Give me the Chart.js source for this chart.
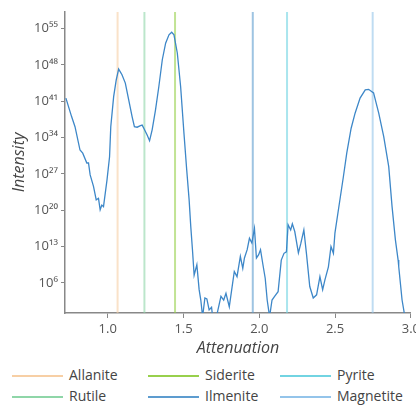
<!DOCTYPE html>
<html>
<head>
<meta charset="utf-8">
<script src="https://cdn.jsdelivr.net/npm/chart.js@4/dist/chart.umd.min.js"></script>
<style>
  html, body { margin: 0; padding: 0; background: #fff; overflow: hidden; }
  #wrap { position: relative; width: 416px; height: 406px; overflow: hidden; }
  #box { position: absolute; left: 0; top: 0; width: 423px; height: 362px; }
  #legend { position: absolute; left: 0; top: 364px; width: 416px; font-family: "Open Sans", sans-serif; font-size: 14px; color: #444; }
  .item { position: absolute; height: 20px; line-height: 20px; white-space: nowrap; }
  .item span.sw { display: inline-block; width: 51px; height: 2px; vertical-align: middle; margin-right: 6px; }
</style>
</head>
<body>
<div id="wrap">
  <div id="box"><canvas id="chart"></canvas></div>
  <div id="legend"></div>
</div>
<script>
// Measured curve: attenuation vs log10(intensity)
const attenuation = [0.724, 0.762, 0.784, 0.817, 0.835, 0.862, 0.873, 0.884, 0.906, 0.924,
  0.939, 0.950, 0.961, 0.972, 0.995, 1.012, 1.020, 1.039, 1.056, 1.072,
  1.094, 1.116, 1.138, 1.161, 1.176, 1.194, 1.216, 1.227, 1.238, 1.260,
  1.276, 1.293, 1.315, 1.337, 1.360, 1.382, 1.404, 1.422, 1.437, 1.459,
  1.481, 1.503, 1.521, 1.537, 1.548, 1.559, 1.570, 1.588, 1.603, 1.614,
  1.626, 1.641, 1.654, 1.669, 1.685, 1.692, 1.710, 1.725, 1.747, 1.765,
  1.780, 1.802, 1.818, 1.835, 1.853, 1.875, 1.891, 1.902, 1.920, 1.935,
  1.951, 1.968, 1.981, 1.995, 2.008, 2.024, 2.039, 2.052, 2.068, 2.084,
  2.101, 2.124, 2.145, 2.163, 2.179, 2.190, 2.207, 2.218, 2.234, 2.258,
  2.274, 2.294, 2.311, 2.333, 2.356, 2.378, 2.400, 2.418, 2.433, 2.456,
  2.473, 2.489, 2.499, 2.522, 2.555, 2.577, 2.606, 2.632, 2.665, 2.699,
  2.721, 2.754, 2.788, 2.821, 2.854, 2.876, 2.898, 2.916, 2.920, 2.942,
  2.953, 2.960, 2.975];
const logIntensity = [41.6, 38.0, 36.1, 31.6, 31.0, 29.1, 29.1, 26.8, 24.6, 22.0,
  22.3, 20.1, 21.0, 20.7, 25.8, 30.3, 36.1, 41.9, 45.1, 47.2,
  46.1, 44.5, 41.3, 38.0, 36.1, 36.0, 36.3, 36.4, 35.8, 34.5,
  33.4, 35.5, 39.3, 43.8, 49.0, 52.2, 53.8, 54.3, 53.8, 50.3,
  43.8, 34.8, 27.8, 22.0, 16.8, 12.4, 7.5, 9.5, 4.7, 2.7,
  -0.5, 3.1, 2.9, 0.8, 1.3, -0.5, -1.5, 0.5, 3.4, 2.7,
  4.0, 1.4, 4.7, 8.2, 7.2, 11.1, 8.8, 10.8, 12.4, 14.6,
  13.7, 16.5, 10.8, 11.4, 12.4, 9.5, 6.9, 2.7, -0.5, 2.7,
  3.4, 4.3, 10.4, 11.7, 12.0, 17.2, 16.2, 17.4, 15.9, 11.8,
  13.6, 16.2, 11.7, 5.3, 3.1, 3.7, 7.2, 4.7, 6.6, 9.1,
  13.0, 11.7, 15.6, 20.1, 26.5, 31.0, 35.8, 38.7, 41.6, 43.2,
  43.3, 42.6, 38.7, 34.2, 28.4, 20.7, 14.3, 10.4, 9.1, 2.7,
  0.8, -0.5, -3.0];

// Reference minerals (vertical markers)
const minerals = ['Allanite', 'Siderite', 'Pyrite', 'Rutile', 'Ilmenite', 'Magnetite'];
const mineralPos = [1.065, 1.444, 2.183, 1.242, 1.957, 2.748];
const mineralColors = ['#f7cfa5', '#98d04c', '#72d4e2', '#8fd6a8', '#5d9ccf', '#94c4ea'];

const xTicks = [1.0, 1.5, 2.0, 2.5, 3.0];
const yTickExps = [6, 13, 20, 27, 34, 41, 48, 55];
const xRange = [0.718, 3.0];
const yExpRange = [0.2, 58.2];

const sup = {'0':'⁰','1':'¹','2':'²','3':'³','4':'⁴','5':'⁵','6':'⁶','7':'⁷','8':'⁸','9':'⁹'};
function powLabel(e) {
  return '10' + String(e).split('').map(c => sup[c]).join('');
}

// lighter version of a hex colour for the lines inside the plot
function fade(hex, a) {
  const n = parseInt(hex.slice(1), 16);
  return 'rgba(' + (n >> 16) + ',' + ((n >> 8) & 255) + ',' + (n & 255) + ',' + a + ')';
}

const yMin = Math.pow(10, yExpRange[0]);
const yMax = Math.pow(10, yExpRange[1]);

const datasets = minerals.map((name, i) => ({
  label: name,
  data: [{x: mineralPos[i], y: yMin}, {x: mineralPos[i], y: yMax}],
  borderColor: fade(mineralColors[i], 0.6),
  borderWidth: 2,
  pointRadius: 0,
  order: 2
}));
datasets.push({
  label: 'Intensity',
  data: attenuation.map((a, i) => ({x: a, y: Math.pow(10, logIntensity[i])})),
  borderColor: '#3d87c8',
  borderWidth: 1.3,
  pointRadius: 0,
  tension: 0,
  order: 1
});

const tickFont = {family: 'Open Sans', size: 13};
const titleFont = {family: 'Open Sans', size: 16, style: 'italic'};

new Chart(document.getElementById('chart'), {
  type: 'line',
  data: {datasets: datasets},
  options: {
    responsive: true,
    maintainAspectRatio: false,
    animation: false,
    layout: {padding: {top: 12, left: 0, right: 0, bottom: 0}},
    plugins: {legend: {display: false}, tooltip: {enabled: false}},
    scales: {
      x: {
        type: 'linear',
        min: xRange[0],
        max: xRange[1],
        afterBuildTicks: s => { s.ticks = xTicks.map(v => ({value: v})); },
        afterFit: s => { s.height = 49; },
        ticks: {color: '#555', font: tickFont, padding: 3, callback: v => v.toFixed(1), maxRotation: 0},
        grid: {drawOnChartArea: false, tickLength: 5, color: '#888'},
        border: {color: '#888', width: 1.5},
        title: {display: true, text: 'Attenuation', color: '#444', font: titleFont, padding: {top: 0, bottom: 4}}
      },
      y: {
        type: 'logarithmic',
        min: yMin,
        max: yMax,
        afterBuildTicks: s => { s.ticks = yTickExps.map(e => ({value: Math.pow(10, e)})); },
        afterFit: s => { s.width = 65; },
        ticks: {color: '#555', font: tickFont, padding: 3, callback: v => powLabel(Math.round(Math.log10(v)))},
        grid: {drawOnChartArea: false, tickLength: 4, color: '#888'},
        border: {color: '#888', width: 1.5},
        title: {display: true, text: 'Intensity', color: '#444', font: titleFont, padding: {top: 10, bottom: 0}}
      }
    }
  }
});

// HTML legend laid out in three columns
const legendCols = [12, 148, 280];
const legendRows = [1, 22];
const legendEl = document.getElementById('legend');
minerals.forEach((name, i) => {
  const d = document.createElement('div');
  d.className = 'item';
  d.style.left = legendCols[i % 3] + 'px';
  d.style.top = legendRows[Math.floor(i / 3)] + 'px';
  d.innerHTML = '<span class="sw" style="background:' + mineralColors[i] + '"></span>' + name;
  legendEl.appendChild(d);
});
</script>
</body>
</html>
